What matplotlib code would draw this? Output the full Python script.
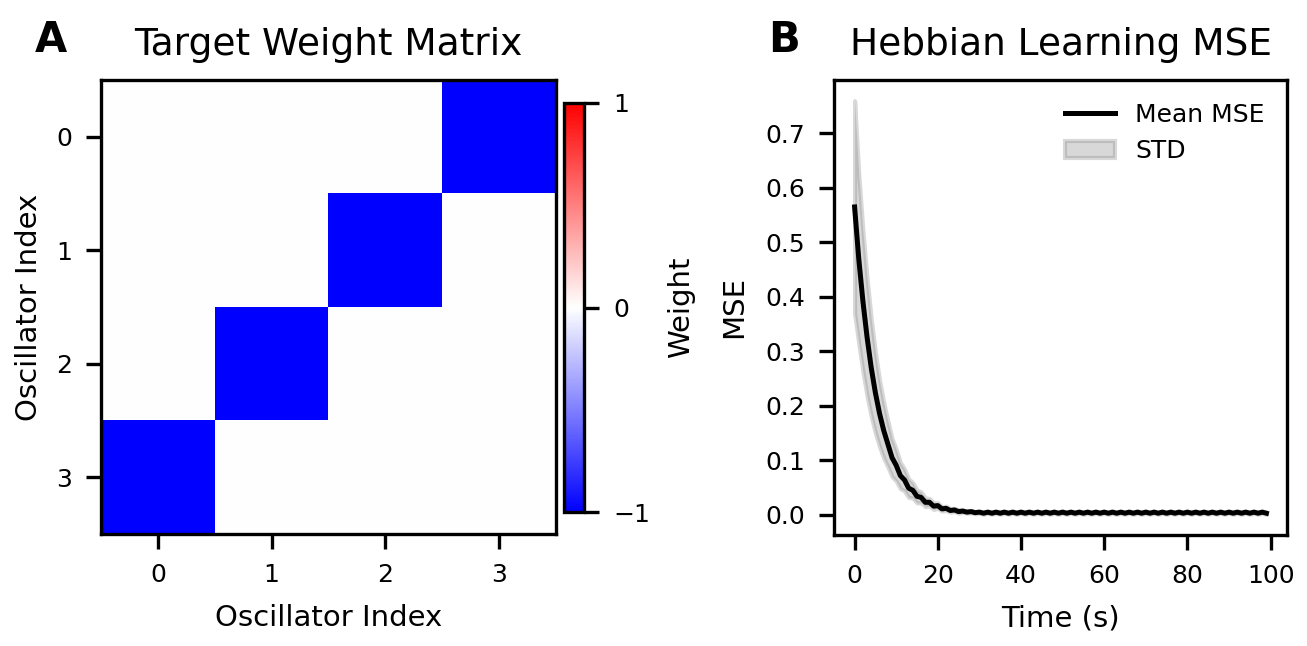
import matplotlib

matplotlib.use('Agg')

import matplotlib.pyplot as plt
import numpy as np

plt.rcParams.update({
    'font.family': 'DejaVu Sans',
    'font.size': 7,
    'axes.titlesize': 9,
    'axes.labelsize': 7,
    'xtick.labelsize': 6,
    'ytick.labelsize': 6,
    'legend.fontsize': 6,
})

# target coupling matrix (anti-diagonal)
weights = [
    [0, 0, 0, -1],
    [0, 0, -1, 0],
    [0, -1, 0, 0],
    [-1, 0, 0, 0],
]
osc_ticks = [0, 1, 2, 3]

# MSE over time
time_s = list(range(100))
mse_mean = [
    0.565, 0.470, 0.392, 0.326, 0.270, 0.224, 0.186, 0.155, 0.130, 0.105,
    0.091, 0.072, 0.064, 0.049, 0.045, 0.034, 0.032, 0.023, 0.023, 0.016,
    0.017, 0.011, 0.012, 0.008, 0.009, 0.006, 0.007, 0.005, 0.006, 0.004,
    0.005, 0.003, 0.005, 0.003, 0.005, 0.003, 0.005, 0.003, 0.005, 0.003,
    0.005, 0.003, 0.005, 0.003, 0.005, 0.003, 0.005, 0.003, 0.005, 0.003,
    0.005, 0.003, 0.005, 0.003, 0.005, 0.003, 0.005, 0.003, 0.005, 0.003,
    0.005, 0.003, 0.005, 0.003, 0.005, 0.003, 0.005, 0.003, 0.005, 0.003,
    0.005, 0.003, 0.005, 0.003, 0.005, 0.003, 0.005, 0.003, 0.005, 0.003,
    0.005, 0.003, 0.005, 0.003, 0.005, 0.003, 0.005, 0.003, 0.005, 0.003,
    0.005, 0.003, 0.005, 0.003, 0.005, 0.003, 0.005, 0.003, 0.005, 0.003,
]
mse_std = [
    0.195, 0.155, 0.129, 0.108, 0.089, 0.074, 0.061, 0.051, 0.042, 0.035,
    0.029, 0.024, 0.020, 0.017, 0.014, 0.012, 0.010, 0.008, 0.007, 0.006,
    0.005, 0.004, 0.004, 0.003, 0.003, 0.003, 0.002, 0.002, 0.002, 0.002,
    0.002, 0.002, 0.002, 0.002, 0.002, 0.002, 0.002, 0.002, 0.002, 0.002,
    0.002, 0.002, 0.002, 0.002, 0.002, 0.002, 0.002, 0.002, 0.002, 0.002,
    0.002, 0.002, 0.002, 0.002, 0.002, 0.002, 0.002, 0.002, 0.002, 0.002,
    0.002, 0.002, 0.002, 0.002, 0.002, 0.002, 0.002, 0.002, 0.002, 0.002,
    0.002, 0.002, 0.002, 0.002, 0.002, 0.002, 0.002, 0.002, 0.002, 0.002,
    0.002, 0.002, 0.002, 0.002, 0.002, 0.002, 0.002, 0.002, 0.002, 0.002,
    0.002, 0.002, 0.002, 0.002, 0.002, 0.002, 0.002, 0.002, 0.002, 0.002,
]

W, H = 1307, 646
DPI = 300
fig = plt.figure(figsize=(W / DPI, H / DPI), dpi=DPI)


def box(x0, y0, x1, y1):
    return [x0 / W, 1 - y1 / H, (x1 - x0) / W, (y1 - y0) / H]


# --- panel A
ax1 = fig.add_axes(box(101, 80, 556, 534))
im = ax1.imshow(np.array(weights), cmap='bwr', vmin=-1, vmax=1, aspect='auto')
ax1.set_xticks(osc_ticks)
ax1.set_yticks(osc_ticks)
ax1.set_xlabel('Oscillator Index')
ax1.set_ylabel('Oscillator Index', labelpad=3)
ax1.set_title('Target Weight Matrix')

cax = fig.add_axes(box(564, 103, 584, 512))
cb = fig.colorbar(im, cax=cax, ticks=[-1, 0, 1])
cb.set_label('Weight', labelpad=4)

fig.text(35 / W, 1 - 40 / H, 'A', fontsize=10, fontweight='bold', va='center')

# --- panel B
ax2 = fig.add_axes(box(834, 80, 1287, 535))
mean = np.array(mse_mean)
std = np.array(mse_std)
ax2.plot(time_s, mean, color='black', lw=1.2, label='Mean MSE')
ax2.fill_between(time_s, mean - std, mean + std, color='gray', alpha=0.3,
                 label='STD')
ax2.set_xticks([0, 20, 40, 60, 80, 100])
ax2.set_yticks([0.0, 0.1, 0.2, 0.3, 0.4, 0.5, 0.6, 0.7])
ax2.set_xlabel('Time (s)')
ax2.set_ylabel('MSE')
ax2.set_title('Hebbian Learning MSE')
ax2.legend(loc='upper right', frameon=False)

fig.text(768 / W, 1 - 40 / H, 'B', fontsize=10, fontweight='bold', va='center')

fig.savefig('out.png', dpi=DPI)
